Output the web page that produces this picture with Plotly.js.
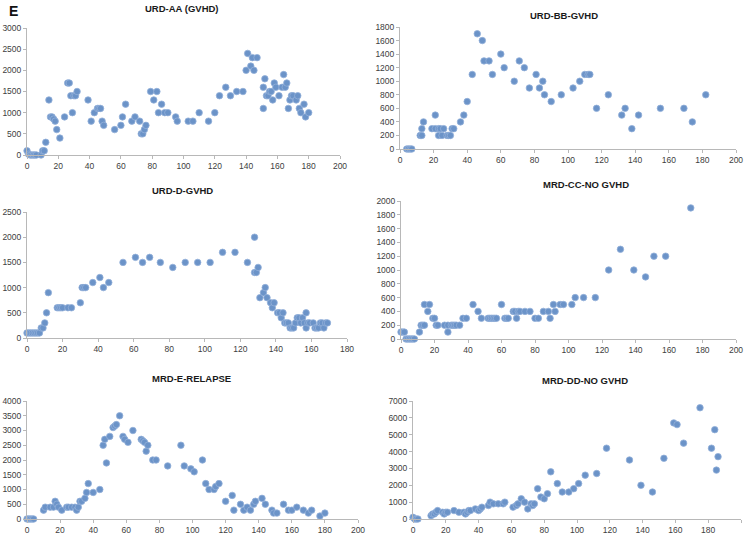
<!DOCTYPE html>
<html>
<head>
<meta charset="utf-8">
<script src="https://cdn.plot.ly/plotly-3.0.1.min.js"></script>
<style>html,body{margin:0;padding:0;background:#fff;}#chart{width:747px;height:536px;}</style>
</head>
<body>
<div id="chart"></div>
<script>
// ---- Data ----
const titles = ["URD-AA (GVHD)", "URD-BB-GVHD", "URD-D-GVHD", "MRD-CC-NO GVHD", "MRD-E-RELAPSE", "MRD-DD-NO GVHD"];
const panelLabel = "E";

const aaX = [0,1,2,3,4,5,6,9,10,11,12,14,15,16,17,18,19,21,24,26,27,28,29,30,31,32,39,41,43,45,46,47,48,49,56,60,61,63,67,69,72,73,74,75,76,79,81,83,84,86,88,90,95,96,103,106,110,116,120,123,127,130,134,138,140,141,143,144,145,147,151,151,152,153,154,155,156,157,158,159,161,163,164,165,166,167,168,169,170,172,173,174,175,177,178,180];
const aaY = [100,20,0,0,0,0,0,0,100,100,300,1300,900,900,850,800,600,400,900,1700,1700,1400,1000,1400,1400,1500,1300,800,1000,1100,1100,1100,800,700,600,700,900,1200,800,900,800,500,500,600,700,1500,1300,1500,1000,1200,1000,1000,900,800,800,800,1000,800,1000,1400,1600,1400,1500,1500,2000,2400,2100,2300,2000,2300,1100,1600,1800,1400,1400,1500,1500,1300,1700,1600,1400,1600,1900,1600,1700,1100,1300,1400,1400,1300,1400,1100,1000,1200,900,1000];

const bbX = [4,5,6,7,12,13,13,14,19,21,21,23,23,24,25,26,28,29,30,31,32,36,38,40,43,46,49,50,53,55,60,62,68,71,74,77,81,83,85,86,90,96,103,107,110,112,113,117,124,132,134,138,142,155,169,174,182];
const bbY = [0,0,0,0,200,200,300,400,300,500,300,300,200,300,200,300,200,200,200,300,300,400,500,700,1100,1700,1600,1300,1300,1100,1400,1200,1000,1300,1200,900,1100,900,1000,800,700,800,900,1000,1100,1100,1100,600,800,500,600,300,500,600,600,400,800];

const dX = [0,1,2,3,4,5,6,7,8,9,10,11,12,17,18,19,20,23,25,30,31,32,33,37,41,43,46,54,61,65,69,75,82,89,96,103,110,117,124,128,128,129,130,131,133,134,135,137,138,139,141,142,143,144,145,146,147,148,149,150,151,152,153,154,155,156,157,157,158,159,161,162,163,164,165,166,167,168,169];
const dY = [100,100,100,100,100,100,100,100,200,200,300,500,900,600,600,600,600,600,600,700,1000,1000,1000,1100,1200,1000,1100,1500,1600,1500,1600,1500,1400,1500,1500,1500,1700,1700,1500,2000,1300,1300,1400,800,900,1000,800,700,600,700,500,500,400,500,300,300,300,200,200,200,300,400,400,300,400,300,200,500,300,300,300,200,200,200,300,300,200,300,300];

const ccX = [0,1,2,3,4,5,6,7,8,11,12,13,14,14,16,17,19,20,21,22,26,28,28,30,31,32,33,35,37,39,43,46,48,52,53,54,55,56,57,60,62,63,64,67,68,69,70,71,74,77,80,82,85,88,89,91,92,95,97,102,104,109,116,124,131,139,146,151,158,173];
const ccY = [100,100,100,0,0,0,0,0,0,100,200,200,500,200,400,500,300,300,200,200,200,100,200,200,200,200,200,200,300,300,500,400,300,300,300,300,300,300,300,500,300,300,300,400,400,300,400,400,400,400,300,300,400,400,300,500,400,500,500,500,600,600,600,1000,1300,1000,900,1200,1200,1900];

const eX = [0,1,2,3,4,10,11,14,16,17,18,19,21,24,25,27,29,30,31,32,33,35,36,37,40,44,46,47,48,50,52,53,54,56,58,59,61,64,69,70,71,72,73,76,78,85,93,95,99,101,106,108,110,113,114,116,120,124,125,129,131,133,135,137,138,142,144,148,149,151,155,158,160,163,167,170,172,177,180];
const eY = [0,0,0,0,0,300,400,400,400,600,500,400,300,400,400,400,400,300,400,600,600,700,900,1200,900,1000,2500,2700,1900,2800,3100,3150,3200,3500,2800,2700,2600,3000,2700,2650,2600,2300,2500,2000,2000,1800,2500,1800,1700,1600,2000,1200,1000,1000,1100,1200,600,800,300,500,300,400,300,500,600,700,500,300,200,200,500,300,300,400,300,200,300,100,200];

const ddX = [0,1,2,3,11,12,13,14,15,18,19,20,21,25,28,31,32,33,34,35,38,40,41,42,46,47,49,52,55,56,61,63,64,66,68,70,72,73,74,76,78,80,82,84,88,91,95,98,101,105,112,118,132,139,146,153,159,161,165,175,182,184,185,186];
const ddY = [100,0,0,0,200,300,300,400,500,400,300,400,400,500,400,400,300,400,500,500,600,500,600,700,800,1000,900,900,900,1000,700,800,900,1200,1000,600,900,800,900,1800,1300,1200,1500,2800,2100,1600,1600,1800,2100,2600,2700,4200,3500,2000,1600,3600,5700,5600,4500,6600,4200,5300,2900,3700];

const xMax = [200, 200, 180, 200, 200, 200];
const yMax = [3000, 1800, 2500, 2000, 4000, 7000];
const yStep = [500, 200, 500, 200, 500, 1000];
const series = [[aaX, aaY], [bbX, bbY], [dX, dY], [ccX, ccY], [eX, eY], [ddX, ddY]];

// ---- Layout geometry (pixels) ----
const W = 747, H = 536;
const boxes = [
  {l: 27, r: 340, t: 28, b: 155, tx: 182, ty: 8},
  {l: 400, r: 736, t: 27, b: 149, tx: 564, ty: 15},
  {l: 27, r: 347, t: 212, b: 338, tx: 182, ty: 190},
  {l: 401, r: 736, t: 201, b: 339, tx: 586, ty: 184},
  {l: 27, r: 358, t: 401, b: 519, tx: 191, ty: 378},
  {l: 413, r: 741, t: 401, b: 519, tx: 585, ty: 380}
];

const traces = [];
const layout = {
  width: W, height: H,
  margin: {l: 0, r: 0, t: 0, b: 0},
  paper_bgcolor: '#ffffff', plot_bgcolor: 'rgba(0,0,0,0)',
  showlegend: false,
  font: {family: 'Liberation Sans, Arial, sans-serif', size: 8.5, color: '#404040'},
  annotations: []
};

boxes.forEach((b, i) => {
  const n = i + 1;
  const xa = n === 1 ? 'xaxis' : 'xaxis' + n;
  const ya = n === 1 ? 'yaxis' : 'yaxis' + n;
  traces.push({
    type: 'scatter', mode: 'markers',
    x: series[i][0], y: series[i][1],
    xaxis: 'x' + (n === 1 ? '' : n), yaxis: 'y' + (n === 1 ? '' : n),
    cliponaxis: false,
    marker: {symbol: 'circle', size: 6.5, color: '#6b93c8', line: {width: 0.8, color: '#93b0d9'}},
    hoverinfo: 'x+y'
  });
  const axisCommon = {
    showgrid: false, zeroline: false, showline: true,
    linecolor: '#b8b8b8', linewidth: 1,
    ticks: 'outside', ticklen: 3, tickwidth: 1, tickcolor: '#b8b8b8',
    tickfont: {size: 8.5, color: '#404040', family: 'Liberation Sans, Arial, sans-serif'},
    fixedrange: true
  };
  layout[xa] = Object.assign({}, axisCommon, {
    domain: [b.l / W, b.r / W],
    anchor: 'y' + (n === 1 ? '' : n),
    range: [0, xMax[i]], dtick: 20, tick0: 0
  });
  layout[ya] = Object.assign({}, axisCommon, {
    domain: [1 - b.b / H, 1 - b.t / H],
    anchor: 'x' + (n === 1 ? '' : n),
    range: [0, yMax[i]], dtick: yStep[i], tick0: 0
  });
  layout.annotations.push({
    text: '<b>' + titles[i] + '</b>',
    xref: 'paper', yref: 'paper',
    x: b.tx / W, y: 1 - b.ty / H,
    xanchor: 'center', yanchor: 'middle', showarrow: false,
    font: {size: 9.5, color: '#1a1a1a', family: 'Liberation Sans, Arial, sans-serif'}
  });
});

layout.annotations.push({
  text: '<b>' + panelLabel + '</b>',
  xref: 'paper', yref: 'paper', x: 13 / W, y: 1 - 11 / H,
  xanchor: 'center', yanchor: 'middle', showarrow: false,
  font: {size: 14, color: '#111111', family: 'Liberation Sans, Arial, sans-serif'}
});

Plotly.newPlot('chart', traces, layout, {displayModeBar: false, staticPlot: false});
</script>
</body>
</html>
